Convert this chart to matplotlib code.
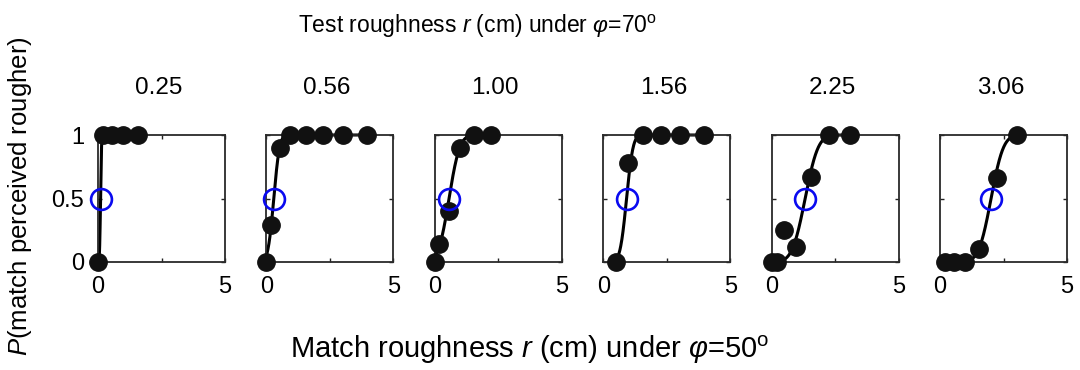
import math
import numpy as np
import matplotlib
matplotlib.use("Agg")
import matplotlib.pyplot as plt

plt.rcParams['font.family'] = ['Liberation Sans', 'DejaVu Sans']
plt.rcParams['mathtext.fontset'] = 'custom'
plt.rcParams['mathtext.rm'] = 'Liberation Sans'
plt.rcParams['mathtext.it'] = 'Liberation Sans:italic'
plt.rcParams['mathtext.bf'] = 'Liberation Sans:bold'

# ---- data ----
test_labels = ["0.25", "0.56", "1.00", "1.56", "2.25", "3.06"]

x_025 = [0, 0.2, 0.56, 1.0, 1.56]
p_025 = [0, 1, 1, 1, 1]
x_056 = [0, 0.18, 0.52, 0.94, 1.54, 2.23, 3.02, 3.96]
p_056 = [0, 0.29, 0.90, 1, 1, 1, 1, 1]
x_100 = [0, 0.18, 0.56, 0.98, 1.54, 2.23]
p_100 = [0, 0.14, 0.40, 0.90, 1, 1]
x_156 = [0.52, 0.97, 1.57, 2.26, 3.02, 3.96]
p_156 = [0, 0.78, 1, 1, 1, 1]
x_225 = [0, 0.2, 0.50, 0.96, 1.55, 2.27, 3.09]
p_225 = [0, 0, 0.25, 0.12, 0.67, 1, 1]
x_306 = [0.2, 0.56, 1.0, 1.55, 2.23, 3.02]
p_306 = [0, 0, 0, 0.10, 0.66, 1]

# fitted psychometric functions (cumulative Gaussian): PSE and spread
pse = [0.10, 0.29, 0.56, 0.92, 1.32, 2.01]
sigma = [0.03, 0.18, 0.33, 0.20, 0.40, 0.38]

xs_all = [x_025, x_056, x_100, x_156, x_225, x_306]
ps_all = [p_025, p_056, p_100, p_156, p_225, p_306]

x_ticks = [0, 2.5, 5]
x_ticklabels = ["0", "", "5"]
y_ticks = [0, 0.5, 1]
y_ticklabels = ["0", "0.5", "1"]

# ---- layout ----
W, H = 1080, 370
fig = plt.figure(figsize=(W / 100, H / 100), dpi=100)
left0, step, aw, ah = 98, 168.4, 127, 127
top_px = 135

erf = np.vectorize(math.erf)

for i in range(6):
    l = left0 + i * step
    ax = fig.add_axes([l / W, 1 - (top_px + ah) / H, aw / W, ah / H])
    xs = np.array(xs_all[i])
    ps = np.array(ps_all[i])
    xc = np.linspace(xs.min(), xs.max(), 400)
    yc = 0.5 * (1 + erf((xc - pse[i]) / (sigma[i] * math.sqrt(2))))
    ax.plot(xc, yc, color='black', lw=2.2, zorder=2, clip_on=False)
    ax.plot(xs, ps, 'o', color='#111111', ms=12.5, zorder=3, clip_on=False)
    ax.plot([pse[i]], [0.5], 'o', mfc='none', mec='#0a0af0', mew=1.9, ms=15,
            zorder=4, clip_on=False)
    ax.set_xlim(0, 5)
    ax.set_ylim(0, 1)
    ax.set_xticks(x_ticks)
    ax.set_xticklabels(x_ticklabels)
    ax.set_yticks(y_ticks)
    if i == 0:
        ax.set_yticklabels(y_ticklabels)
    else:
        ax.set_yticklabels([])
    ax.tick_params(direction='in', length=3, width=1, top=True, right=True,
                   labelsize=17, pad=10, colors='#222222', labelcolor='black')
    for s in ax.spines.values():
        s.set_linewidth(1.3)
        s.set_color('#2a2a2a')
    fig.text((l + aw / 2 - 3) / W, 1 - 88 / H, test_labels[i], ha='center',
             va='center', fontsize=17.5)

fig.text(478 / W, 1 - 26 / H,
         r'Test roughness $\mathit{r}$ (cm) under $\varphi$=70$^{\rm o}$',
         ha='center', va='center', fontsize=16.5)
fig.text(530 / W, 1 - 350 / H,
         r'Match roughness $\mathit{r}$ (cm) under $\varphi$=50$^{\rm o}$',
         ha='center', va='center', fontsize=21)
fig.text(20 / W, 1 - 196 / H, r'$\mathit{P}$(match perceived rougher)',
         rotation=90, ha='center', va='center', fontsize=18.5)

fig.savefig('out.png', dpi=100)
